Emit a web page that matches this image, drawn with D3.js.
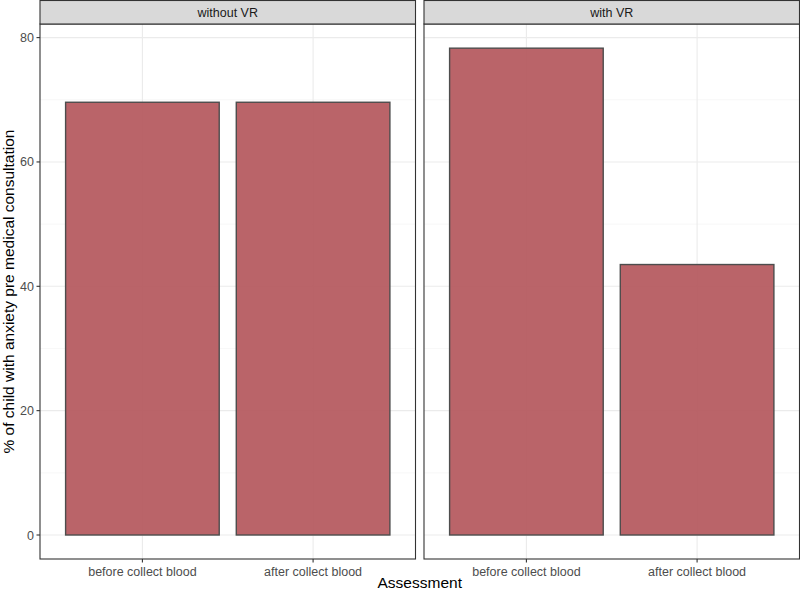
<!DOCTYPE html>
<html>
<head>
<meta charset="utf-8">
<script src="https://cdn.jsdelivr.net/npm/d3@7"></script>
<style>
  body { margin: 0; background: #fff; }
  text { font-family: "Liberation Sans", Arial, sans-serif; }
</style>
</head>
<body>
<div id="chart"></div>
<script>
// data
var panels = ["without VR", "with VR"];
var assessments = ["before collect blood", "after collect blood"];
var pctWithout = [69.6, 69.6];
var pctWith = [78.3, 43.5];
var yTicks = [0, 20, 40, 60, 80];
var yMinor = [10, 30, 50, 70];

var W = 800, H = 593;
var panelLeft = [40, 424], panelW = 375.5;
var stripTop = 0.5, stripH = 23.5, panelTop = 24, panelBottom = 559;

var svg = d3.select("#chart").append("svg")
  .attr("width", W).attr("height", H);

var y = d3.scaleLinear().domain([0, 80]).range([535, 37.6]);

var seriesList = [pctWithout, pctWith];

panels.forEach(function(p, pi) {
  var x0 = panelLeft[pi];
  // ggplot-like discrete expansion: band of 1 unit per category, 0.6 padding each side
  var x = d3.scaleLinear().domain([0.4, 2.6]).range([x0, x0 + panelW]);
  var g = svg.append("g");

  g.append("rect").attr("x", x0).attr("y", panelTop)
    .attr("width", panelW).attr("height", panelBottom - panelTop)
    .attr("fill", "#fff");

  // minor grid
  g.selectAll(".minor").data(yMinor).enter().append("line")
    .attr("x1", x0).attr("x2", x0 + panelW)
    .attr("y1", function(d){ return y(d); }).attr("y2", function(d){ return y(d); })
    .attr("stroke", "#F2F2F2").attr("stroke-width", 0.6);
  // major grid
  g.selectAll(".major").data(yTicks).enter().append("line")
    .attr("x1", x0).attr("x2", x0 + panelW)
    .attr("y1", function(d){ return y(d); }).attr("y2", function(d){ return y(d); })
    .attr("stroke", "#EBEBEB").attr("stroke-width", 1.1);
  g.selectAll(".vmajor").data(assessments).enter().append("line")
    .attr("x1", function(d, i){ return x(i + 1); }).attr("x2", function(d, i){ return x(i + 1); })
    .attr("y1", panelTop).attr("y2", panelBottom)
    .attr("stroke", "#EBEBEB").attr("stroke-width", 1.1);

  // bars
  g.selectAll(".bar").data(seriesList[pi]).enter().append("rect")
    .attr("x", function(d, i){ return x(i + 1 - 0.45); })
    .attr("width", function(d, i){ return x(i + 1 + 0.45) - x(i + 1 - 0.45); })
    .attr("y", function(d){ return y(d); })
    .attr("height", function(d){ return y(0) - y(d); })
    .attr("fill", "#b4575c").attr("fill-opacity", 0.92)
    .attr("stroke", "#4D4D4D").attr("stroke-width", 1.4);

  // panel border
  g.append("rect").attr("x", x0).attr("y", panelTop)
    .attr("width", panelW).attr("height", panelBottom - panelTop)
    .attr("fill", "none").attr("stroke", "#333333").attr("stroke-width", 1.1);

  // strip
  g.append("rect").attr("x", x0).attr("y", stripTop)
    .attr("width", panelW).attr("height", stripH)
    .attr("fill", "#D9D9D9").attr("stroke", "#333333").attr("stroke-width", 1.1);
  g.append("text").attr("x", x0 + panelW / 2).attr("y", stripTop + stripH / 2 + 4.5)
    .attr("text-anchor", "middle").attr("font-size", 12.5).attr("fill", "#1A1A1A")
    .text(p);

  // x axis ticks and labels
  g.selectAll(".xt").data(assessments).enter().append("line")
    .attr("x1", function(d, i){ return x(i + 1); }).attr("x2", function(d, i){ return x(i + 1); })
    .attr("y1", panelBottom).attr("y2", panelBottom + 3.5)
    .attr("stroke", "#333333").attr("stroke-width", 1.1);
  g.selectAll(".xl").data(assessments).enter().append("text")
    .attr("x", function(d, i){ return x(i + 1); }).attr("y", panelBottom + 17)
    .attr("text-anchor", "middle").attr("font-size", 12.5).attr("fill", "#4D4D4D")
    .text(function(d){ return d; });
});

// y axis (left panel only)
var ya = svg.append("g");
ya.selectAll("line").data(yTicks).enter().append("line")
  .attr("x1", panelLeft[0] - 3.5).attr("x2", panelLeft[0])
  .attr("y1", function(d){ return y(d); }).attr("y2", function(d){ return y(d); })
  .attr("stroke", "#333333").attr("stroke-width", 1.1);
ya.selectAll("text").data(yTicks).enter().append("text")
  .attr("x", panelLeft[0] - 6).attr("y", function(d){ return y(d) + 4.5; })
  .attr("text-anchor", "end").attr("font-size", 12.5).attr("fill", "#4D4D4D")
  .text(function(d){ return d; });

// axis titles
svg.append("text").attr("x", (panelLeft[0] + panelLeft[1] + panelW) / 2).attr("y", 588)
  .attr("text-anchor", "middle").attr("font-size", 15.5).attr("fill", "#000")
  .text("Assessment");
svg.append("text")
  .attr("transform", "translate(14," + ((panelTop + panelBottom) / 2) + ") rotate(-90)")
  .attr("text-anchor", "middle").attr("font-size", 15.5).attr("fill", "#000")
  .text("% of child with anxiety pre medical consultation");
</script>
</body>
</html>
